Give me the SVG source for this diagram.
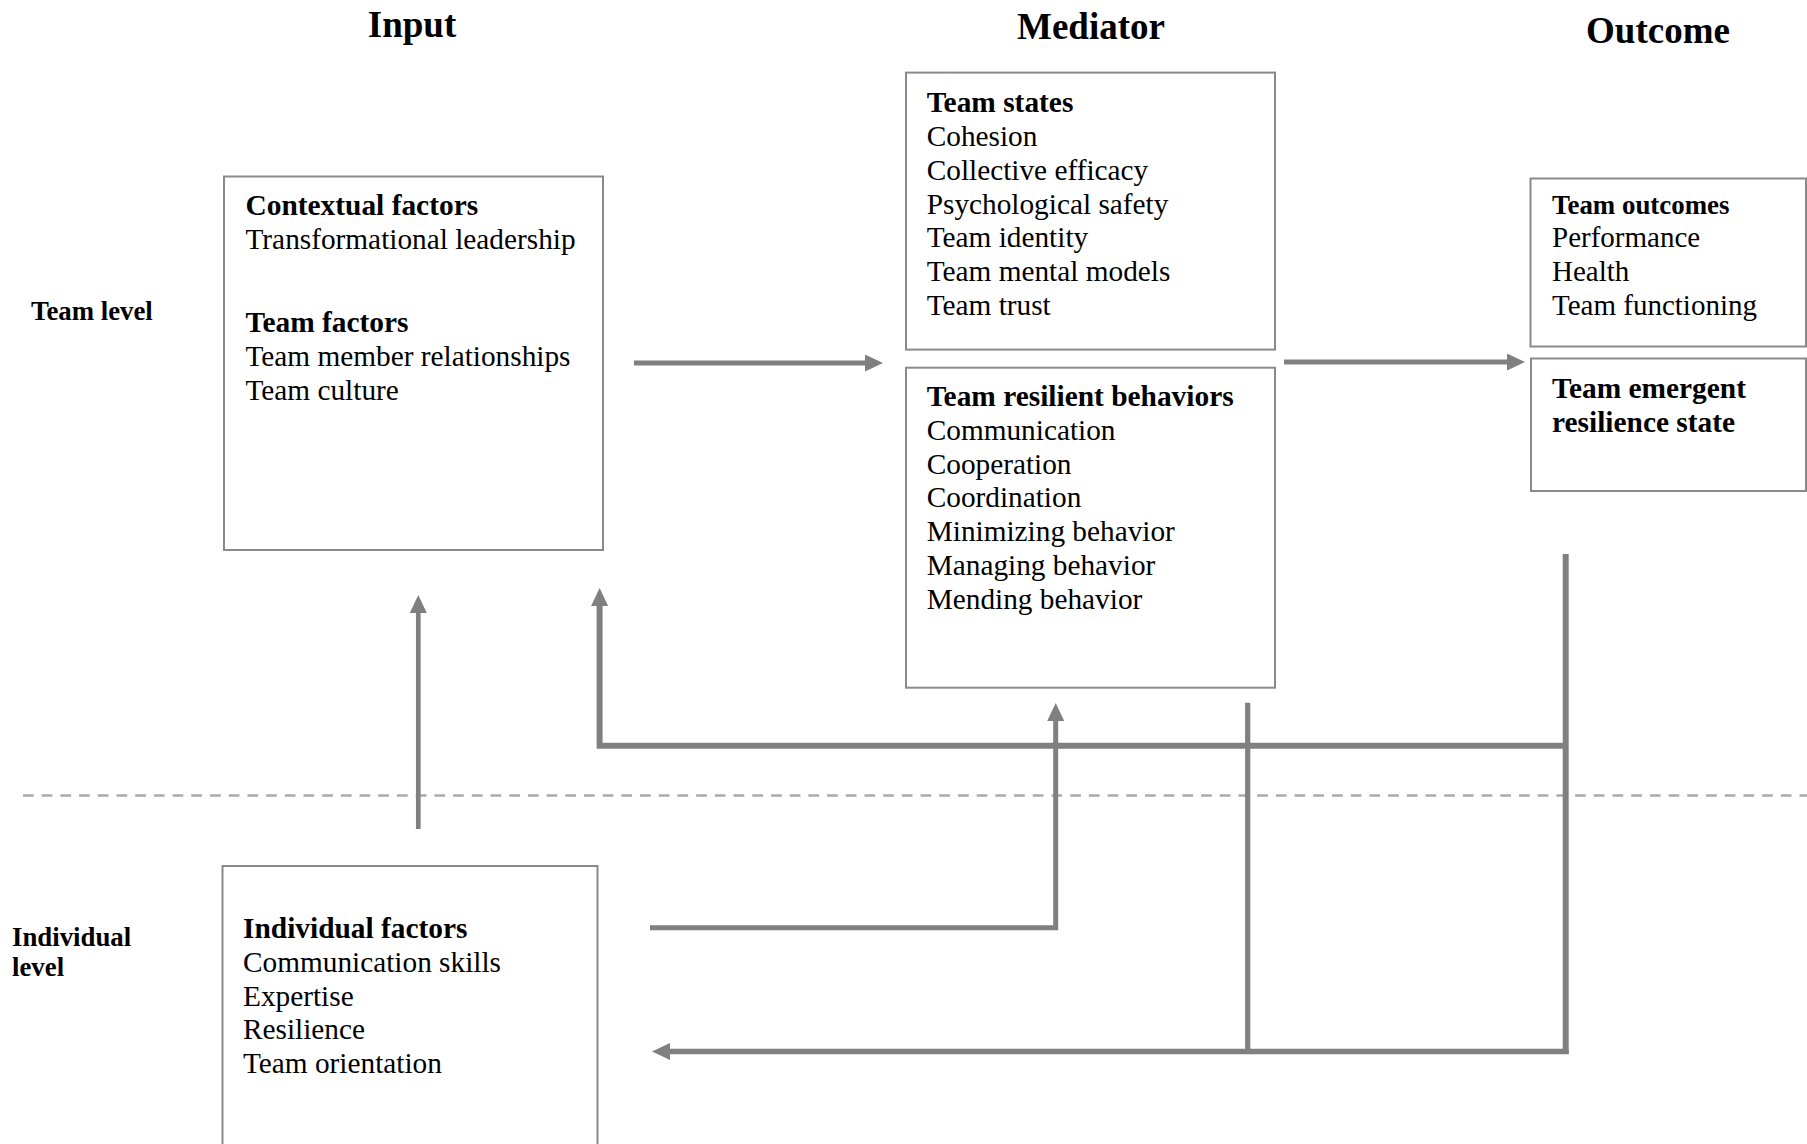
<svg xmlns="http://www.w3.org/2000/svg" width="1807" height="1144" viewBox="0 0 1807 1144">
<style>
  text { font-family: "Liberation Serif", "Times New Roman", serif; fill: #000; }
  .title { font-size: 37px; font-weight: bold; text-anchor: middle; }
  .lvl { font-size: 26.8px; font-weight: bold; }
  .h { font-size: 29.4px; font-weight: bold; }
  .t { font-size: 29.3px; }
  .ho { font-size: 26.9px; font-weight: bold; }
  .to { font-size: 29px; }
  .box { fill: #fff; stroke: #8a8a8a; stroke-width: 2; }
  .conn { fill: none; stroke: #808080; stroke-linejoin: miter; }
</style>
<defs>
  <marker id="ah" viewBox="0 0 18 17" refX="0" refY="8.5" markerWidth="18" markerHeight="17" markerUnits="userSpaceOnUse" orient="auto">
    <path d="M0,0 L18,8.5 L0,17 Z" fill="#808080"/>
  </marker>
</defs>
<rect width="1807" height="1144" fill="#fff"/>

<g id="titles">
  <text class="title" x="412" y="37">Input</text>
  <text class="title" x="1091" y="39">Mediator</text>
  <text class="title" x="1658" y="43">Outcome</text>
</g>

<g id="levels">
  <text class="lvl" x="31" y="320">Team level</text>
  <text class="lvl" x="12" y="946">Individual</text>
  <text class="lvl" x="12" y="976">level</text>
</g>

<line x1="23" y1="795.5" x2="1807" y2="795.5" stroke="#aaaaaa" stroke-width="2.7" stroke-dasharray="10.7,8"/>

<g id="connectors">
  <path class="conn" stroke-width="5" d="M634,363 H865" marker-end="url(#ah)"/>
  <path class="conn" stroke-width="5" d="M1284,362 H1507" marker-end="url(#ah)"/>
  <path class="conn" stroke-width="4.7" d="M418.3,829 V613" marker-end="url(#ah)"/>
  <path class="conn" stroke-width="6" d="M1565.7,554 V1054"/>
  <path class="conn" stroke-width="6" d="M1565.7,745.7 H599.6 V606" marker-end="url(#ah)"/>
  <path class="conn" stroke-width="5.5" d="M1568.7,1051.5 H670" marker-end="url(#ah)"/>
  <path class="conn" stroke-width="5.2" d="M1247.7,702.7 V1051.5"/>
  <path class="conn" stroke-width="5" d="M650,927.7 H1055.7 V721" marker-end="url(#ah)"/>
</g>

<g id="input">
  <rect class="box" x="224" y="176.5" width="379" height="373.5"/>
  <text class="h" x="245.5" y="214.8">Contextual factors</text>
  <text class="t" x="245.5" y="248.5">Transformational leadership</text>
  <text class="h" x="245.5" y="331.5">Team factors</text>
  <text class="t" x="245.5" y="366">Team member relationships</text>
  <text class="t" x="245.5" y="400">Team culture</text>
</g>

<g id="team-states">
  <rect class="box" x="906" y="72.6" width="369" height="277"/>
  <text class="h" x="926.7" y="112.3">Team states</text>
  <text class="t" x="926.7" y="146">Cohesion</text>
  <text class="t" x="926.7" y="179.8">Collective efficacy</text>
  <text class="t" x="926.7" y="213.6">Psychological safety</text>
  <text class="t" x="926.7" y="247.4">Team identity</text>
  <text class="t" x="926.7" y="281.2">Team mental models</text>
  <text class="t" x="926.7" y="315">Team trust</text>
</g>

<g id="team-resilient-behaviors">
  <rect class="box" x="906" y="367.7" width="369" height="320"/>
  <text class="h" x="926.7" y="405.6">Team resilient behaviors</text>
  <text class="t" x="926.7" y="439.6">Communication</text>
  <text class="t" x="926.7" y="473.5">Cooperation</text>
  <text class="t" x="926.7" y="507.4">Coordination</text>
  <text class="t" x="926.7" y="541.3">Minimizing behavior</text>
  <text class="t" x="926.7" y="575.2">Managing behavior</text>
  <text class="t" x="926.7" y="609.1">Mending behavior</text>
</g>

<g id="team-outcomes">
  <rect class="box" x="1530.5" y="178.5" width="275.5" height="168"/>
  <text class="ho" x="1552" y="213.8">Team outcomes</text>
  <text class="to" x="1552" y="247.3">Performance</text>
  <text class="to" x="1552" y="281">Health</text>
  <text class="to" x="1552" y="315">Team functioning</text>
</g>

<g id="team-emergent">
  <rect class="box" x="1531" y="358.5" width="275" height="132.5"/>
  <text class="h" x="1552" y="397.7">Team emergent</text>
  <text class="h" x="1552" y="431.5">resilience state</text>
</g>

<g id="individual">
  <rect class="box" x="222.5" y="866" width="375" height="300"/>
  <text class="h" x="243" y="937.8">Individual factors</text>
  <text class="t" x="243" y="971.6">Communication skills</text>
  <text class="t" x="243" y="1005.5">Expertise</text>
  <text class="t" x="243" y="1039.4">Resilience</text>
  <text class="t" x="243" y="1073.3">Team orientation</text>
</g>
</svg>
